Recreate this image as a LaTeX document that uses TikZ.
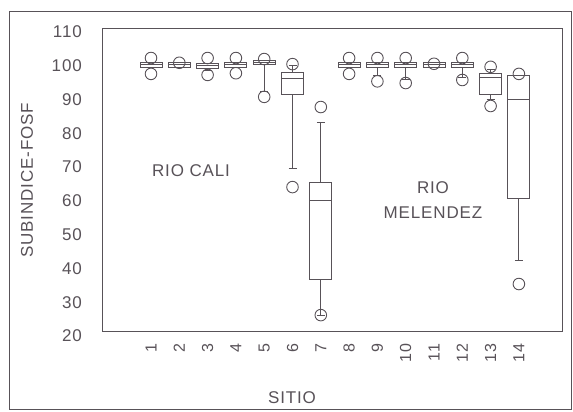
\documentclass[tikz,border=0pt]{standalone}
\usepackage{fontspec}
\newfontfamily\chartfont[LetterSpace=5]{Liberation Sans}
\definecolor{inkgray}{RGB}{88,82,88}
\tikzset{
  frame/.style = {draw=inkgray, line width=0.9pt},
  whisk/.style = {draw=inkgray, line width=0.9pt},
  boxp/.style = {draw=inkgray, line width=0.9pt},
  outl/.style = {draw=inkgray, line width=0.9pt},
  ticklab/.style = {text=inkgray, inner sep=0pt, font=\chartfont\fontsize{17}{17}\selectfont},
  sitelab/.style = {text=inkgray, inner sep=0pt, rotate=90, anchor=east, font=\chartfont\fontsize{16}{16}\selectfont},
}

\begin{document}
\begin{tikzpicture}[x=1pt, y=3.378pt]
\useasboundingbox (0,-2.19) rectangle (573,119.48);
% frames
\draw[frame] (9,-1.6) rectangle (571,116.2);
\draw[frame] (102,21.5) rectangle (562,111.2);
% axis texts
\foreach \v in {20,30,...,110}
  \node[ticklab, anchor=east] (ytick\v) at (82,\v) {\v};
\foreach \i in {1,...,14}
  \node[sitelab] (xtick\i) at ({151+(\i-1)*28.3},17.8) {\i};
\node[ticklab] (xtitle) at (292,1.9) {SITIO};
\node[ticklab, rotate=90] (ytitle) at (27,66.1) {SUBINDICE-FOSF};
\node[ticklab] (cali) at (191,69.1) {RIO CALI};
\node[ticklab, align=center] (melendez) at (433,60.2) {RIO\\[8pt]MELENDEZ};
% boxes: site/q1/median/q3/low/high
\foreach \i/\qa/\md/\qb/\lo/\hi in {1/99.6/100.3/101.1/99.6/101.1, 2/99.6/100.3/101.1/99.6/101.1,
    3/99.3/100.0/100.8/98.5/100.8, 4/99.6/100.3/101.1/99.6/101.1, 5/100.3/101.0/101.6/92.3/101.6,
    6/91.6/96.3/98.1/69.7/100.0, 7/36.8/60.2/65.6/26.0/83.3, 8/99.6/100.3/101.1/99.6/101.1,
    9/99.6/100.3/101.1/97.0/101.1, 10/99.6/100.3/101.1/96.0/101.1, 11/99.6/100.3/101.1/99.6/101.1,
    12/99.6/100.3/101.1/96.5/101.1, 13/91.4/96.5/97.8/90.0/99.0, 14/60.8/89.9/97.2/42.5/97.2}
{
  \pgfmathsetmacro\sx{151+(\i-1)*28.3}
  \draw[whisk] (\sx,\lo) -- (\sx,\qa) (\sx,\qb) -- (\sx,\hi);
  \draw[whisk] (\sx-4,\lo) -- (\sx+4,\lo) (\sx-4,\hi) -- (\sx+4,\hi);
  \draw[boxp] (\sx-11,\qa) rectangle (\sx+11,\qb);
  \draw[boxp] (\sx-11,\md) -- (\sx+11,\md);
}
% outliers
\foreach \i/\v in {1/102.3, 1/97.6, 2/100.9, 3/102.3, 3/97.3, 4/102.3, 4/97.8, 5/102.0, 5/90.8,
    6/100.5, 6/64.1, 7/87.8, 7/26.2, 8/102.3, 8/97.6, 9/102.3, 9/95.4, 10/102.3, 10/94.9,
    11/100.6, 12/102.3, 12/95.8, 13/99.7, 13/88.1, 14/97.6, 14/35.4}
{
  \pgfmathsetmacro\sx{151+(\i-1)*28.3}
  \draw[outl] (\sx,\v) circle[radius=5.8pt];
}
\end{tikzpicture}
\end{document}
